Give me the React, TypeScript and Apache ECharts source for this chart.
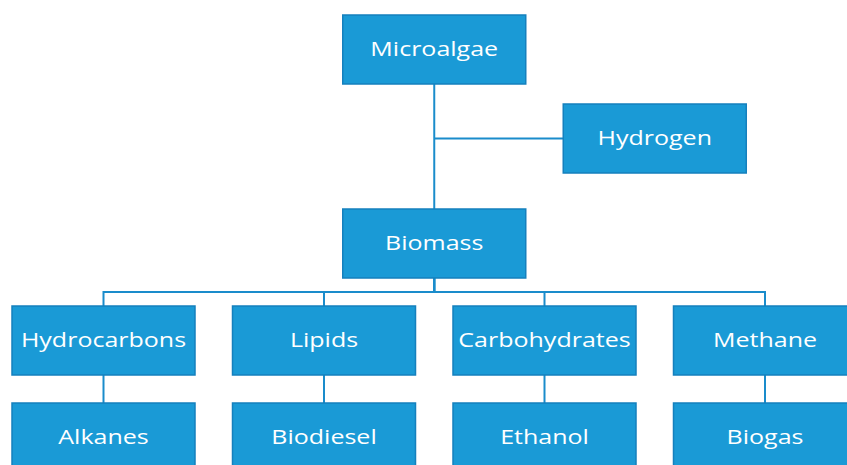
import React, { useEffect, useRef } from "react";
import * as echarts from "echarts";

// Diagram content
const nodeNames = [
  "Microalgae",
  "Hydrogen",
  "Biomass",
  "Hydrocarbons",
  "Lipids",
  "Carbohydrates",
  "Methane",
  "Alkanes",
  "Biodiesel",
  "Ethanol",
  "Biogas",
];
const nodeParents = [
  "",
  "Microalgae",
  "Microalgae",
  "Biomass",
  "Biomass",
  "Biomass",
  "Biomass",
  "Hydrocarbons",
  "Lipids",
  "Carbohydrates",
  "Methane",
];
const sideBranches = ["Hydrogen"];

// Layout (column units horizontally, level units vertically)
const layout: Record<string, [number, number]> = {
  Microalgae: [1.5, 0],
  Hydrogen: [2.5, 0.9175],
  Biomass: [1.5, 2],
  Hydrocarbons: [0, 3],
  Lipids: [1, 3],
  Carbohydrates: [2, 3],
  Methane: [3, 3],
  Alkanes: [0, 4],
  Biodiesel: [1, 4],
  Ethanol: [2, 4],
  Biogas: [3, 4],
};

const FILL = "#1a9ad6";
const BORDER = "#1580bd";
const LINE = "#1a8ccb";
const BOX_W = 183;
const BOX_H = 69;

function buildConnectors() {
  const res: { coords: number[][] }[] = [];
  nodeNames.forEach((name, i) => {
    const parent = nodeParents[i];
    if (!parent) return;
    const [px, py] = layout[parent];
    const [cx, cy] = layout[name];
    if (sideBranches.includes(name)) {
      res.push({ coords: [[px, cy], [cx, cy]] });
    } else if (Math.abs(cx - px) < 1e-6) {
      res.push({ coords: [[px, py], [cx, cy]] });
    } else {
      const busY = (py + cy) / 2;
      res.push({ coords: [[px, py], [px, busY], [cx, busY], [cx, cy]] });
    }
  });
  return res;
}

export default function App() {
  const ref = useRef<HTMLDivElement>(null);
  useEffect(() => {
    if (!ref.current) return;
    const chart = echarts.init(ref.current, null, { renderer: "svg" });
    const option: any = {
      animation: false,
      backgroundColor: "#ffffff",
      grid: { left: 0, right: 0, top: 0, bottom: 0 },
      xAxis: {
        type: "value",
        min: -103.5 / 220.5,
        max: (847 - 103.5) / 220.5,
        show: false,
      },
      yAxis: {
        type: "value",
        inverse: true,
        min: -49.5 / 97,
        max: (465 - 49.5) / 97,
        show: false,
      },
      series: [
        {
          type: "lines",
          coordinateSystem: "cartesian2d",
          polyline: true,
          silent: true,
          z: 1,
          lineStyle: { color: LINE, width: 2, opacity: 1 },
          data: buildConnectors(),
        },
        {
          type: "custom",
          z: 2,
          silent: true,
          data: nodeNames.map((n) => ({ name: n, value: layout[n] })),
          renderItem: (params: any, api: any) => {
            const p = api.coord([api.value(0), api.value(1)]);
            const name = nodeNames[params.dataIndex];
            return {
              type: "group",
              children: [
                {
                  type: "rect",
                  shape: {
                    x: p[0] - BOX_W / 2,
                    y: p[1] - BOX_H / 2,
                    width: BOX_W,
                    height: BOX_H,
                  },
                  style: { fill: FILL, stroke: BORDER, lineWidth: 1.5 },
                },
                {
                  type: "text",
                  x: p[0],
                  y: p[1] - 1,
                  scaleX: 1.22,
                  style: {
                    text: name,
                    fill: "#ffffff",
                    fontSize: 20.5,
                    fontWeight: 500,
                    fontFamily: "Open Sans",
                    align: "center",
                    verticalAlign: "middle",
                  },
                },
              ],
            };
          },
        },
      ],
    };
    chart.setOption(option);
    return () => chart.dispose();
  }, []);
  return (
    <div
      ref={ref}
      style={{ position: "fixed", left: 0, top: 0, width: 847, height: 465 }}
    />
  );
}
